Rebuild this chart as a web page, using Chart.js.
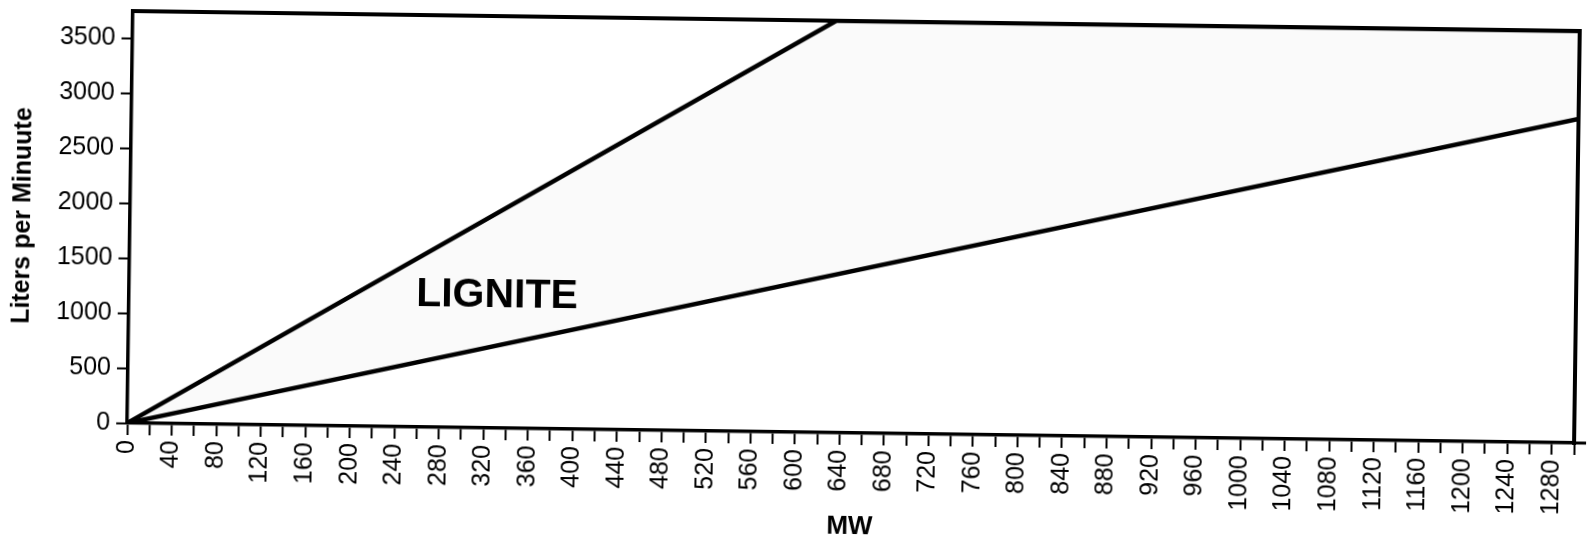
<!DOCTYPE html>
<html>
<head>
<meta charset="utf-8">
<title>Lignite - Liters per Minute vs MW</title>
<script src="https://cdn.jsdelivr.net/npm/chart.js@4.4.1/dist/chart.umd.min.js"></script>
<style>
  html, body { margin: 0; padding: 0; background: #fff; }
  #wrap { width: 1592px; height: 544px; overflow: hidden; position: relative; background: #fff; }
  /* the printed sheet sits a little crooked on the page */
  #chart { display: block; transform: rotate(0.79deg); transform-origin: 853.5px 226px; }
</style>
</head>
<body>
<div id="wrap"><canvas id="chart" width="1592" height="544"></canvas></div>
<script>
// Steep boundary of the lignite band (runs into the top of the plot)
const upperMW  = [0, 632, 1300];
const upperLpm = [0, 3750, 3750];
// Shallow boundary of the lignite band
const lowerMW  = [0, 1300];
const lowerLpm = [0, 2950];

// Axis ranges and tick labels
const xMin = 0, xMax = 1300, xTickStep = 20, xLabelStep = 40;
const yMin = 0, yMax = 3750;
const yTickValues = [0, 500, 1000, 1500, 2000, 2500, 3000, 3500];

const xTitle = 'MW';
const yTitle = 'Liters per Minuute';
const bandLabel = 'LIGNITE';
const bandLabelMW = 258, bandLabelLpm = 1205;

const FONT = '"Liberation Sans", Arial, Helvetica, sans-serif';
const INK = '#000';
const BAND = 'rgba(0,0,0,0.02)';

const toPoints = (xs, ys) => xs.map((x, i) => ({ x: x, y: ys[i] }));

// Top and right sides of the frame, plus the axis overhang at the lower right
const framePlugin = {
  id: 'frame',
  afterDraw(chart) {
    const { ctx, chartArea: a } = chart;
    ctx.save();
    ctx.strokeStyle = INK;
    ctx.lineWidth = 4;
    ctx.lineCap = 'square';
    ctx.beginPath();
    ctx.moveTo(a.left, a.top);
    ctx.lineTo(a.right, a.top);
    ctx.lineTo(a.right, a.bottom);
    ctx.stroke();
    ctx.lineCap = 'butt';
    ctx.lineWidth = 3;
    ctx.beginPath();
    ctx.moveTo(a.right, a.bottom);
    ctx.lineTo(a.right + 12, a.bottom);
    ctx.stroke();
    ctx.restore();
  }
};

// Name of the band, placed in data units
const bandLabelPlugin = {
  id: 'bandLabel',
  afterDatasetsDraw(chart) {
    const { ctx, scales } = chart;
    ctx.save();
    ctx.fillStyle = INK;
    ctx.font = 'bold 41px ' + FONT;
    ctx.textAlign = 'left';
    ctx.textBaseline = 'middle';
    ctx.fillText(bandLabel, scales.x.getPixelForValue(bandLabelMW), scales.y.getPixelForValue(bandLabelLpm));
    ctx.restore();
  }
};

new Chart(document.getElementById('chart'), {
  type: 'line',
  data: {
    datasets: [
      {
        data: toPoints(upperMW, upperLpm),
        borderColor: INK,
        borderWidth: 4.5,
        pointRadius: 0,
        tension: 0,
        fill: false
      },
      {
        data: toPoints(lowerMW, lowerLpm),
        borderColor: INK,
        borderWidth: 4.5,
        pointRadius: 0,
        tension: 0,
        fill: { target: 0, above: BAND, below: BAND },
        backgroundColor: BAND
      }
    ]
  },
  options: {
    responsive: false,
    animation: false,
    events: [],
    layout: { padding: { left: 0, top: 19, right: 15, bottom: 0 } },
    plugins: { legend: { display: false }, tooltip: { enabled: false } },
    scales: {
      x: {
        type: 'linear',
        min: xMin,
        max: xMax,
        afterFit(s) { s.height = 111; s.paddingLeft = 0; s.paddingRight = 0; },
        grid: { display: true, drawOnChartArea: false, drawTicks: true, tickLength: 12, tickWidth: 2, tickColor: INK, color: INK },
        border: { display: true, color: INK, width: 3.5 },
        ticks: {
          stepSize: xTickStep,
          autoSkip: false,
          minRotation: 90,
          maxRotation: 90,
          padding: 5,
          color: INK,
          font: { family: FONT, size: 25 },
          callback: (v) => (v % xLabelStep === 0 ? String(v) : '')
        },
        title: {
          display: true,
          text: xTitle,
          color: INK,
          font: { family: FONT, size: 26, weight: 'bold' },
          padding: { top: 0, bottom: 2 }
        }
      },
      y: {
        type: 'linear',
        min: yMin,
        max: yMax,
        afterFit(s) { s.width = 130; },
        afterBuildTicks(s) { s.ticks = yTickValues.map((v) => ({ value: v })); },
        grid: { display: true, drawOnChartArea: false, drawTicks: true, tickLength: 11, tickWidth: 2, tickColor: INK, color: INK },
        border: { display: true, color: INK, width: 3.5 },
        ticks: {
          padding: 6,
          color: INK,
          font: { family: FONT, size: 25 },
          callback: (v) => String(v)
        },
        title: {
          display: true,
          text: yTitle,
          color: INK,
          font: { family: FONT, size: 25, weight: 'bold' },
          padding: { top: 8, bottom: 0 }
        }
      }
    }
  },
  plugins: [framePlugin, bandLabelPlugin]
});
</script>
</body>
</html>
